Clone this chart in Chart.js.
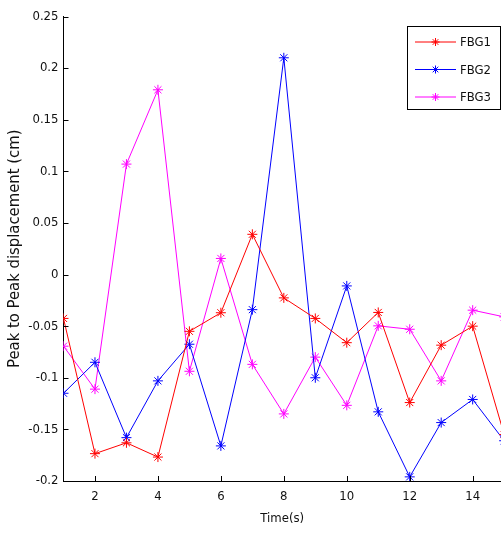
<!DOCTYPE html>
<html>
<head>
<meta charset="utf-8">
<script src="https://cdn.jsdelivr.net/npm/chart.js@4"></script>
<style>
  html, body { margin: 0; padding: 0; background: #fff; overflow: hidden; }
  #wrap { width: 501px; height: 533px; }
  canvas { display: block; }
</style>
</head>
<body>
<div id="wrap"><canvas id="grafico" width="501" height="533"></canvas></div>
<script>
// tiempos y desplazamientos pico a pico de cada sensor
const tiempos = [1, 2, 3, 4, 5, 6, 7, 8, 9, 10, 11, 12, 13, 14, 15];
const fbg1 = [-0.0425, -0.1735, -0.163, -0.1768, -0.055, -0.037, 0.039, -0.0226, -0.0425, -0.066, -0.0367, -0.124, -0.0684, -0.05, -0.155];
const fbg2 = [-0.115, -0.085, -0.158, -0.103, -0.0675, -0.166, -0.034, 0.21, -0.1, -0.011, -0.133, -0.196, -0.1434, -0.121, -0.161];
const fbg3 = [-0.0694, -0.111, 0.107, 0.179, -0.0937, 0.0156, -0.087, -0.135, -0.08, -0.1267, -0.0497, -0.053, -0.103, -0.0345, -0.041];

const ticksX = [2, 4, 6, 8, 10, 12, 14];
const ticksY = [-0.2, -0.15, -0.1, -0.05, 0, 0.05, 0.1, 0.15, 0.2, 0.25];

const fuente = '"Liberation Sans Narrow", "DejaVu Sans Condensed", "Liberation Sans", Arial, sans-serif';

function serie(nombre, valores, color) {
    return {
        label: nombre,
        data: tiempos.map((t, i) => ({ x: t, y: valores[i] })),
        borderColor: color,
        backgroundColor: color,
        borderWidth: 1,
        pointStyle: 'star',
        pointRadius: 5,
        pointBorderWidth: 1,
        tension: 0
    };
}

// marcas de escala hacia adentro y leyenda dentro del area, estilo matlab
const marcas = {
    id: 'marcas',
    afterDraw(chart) {
        const ctx = chart.ctx;
        const area = chart.chartArea;
        const sx = chart.scales.x;
        const sy = chart.scales.y;
        ctx.save();
        ctx.strokeStyle = '#000';
        ctx.lineWidth = 1;
        ctx.beginPath();
        ticksX.forEach(v => {
            const px = Math.round(sx.getPixelForValue(v)) + 0.5;
            ctx.moveTo(px, area.bottom);
            ctx.lineTo(px, area.bottom - 5);
        });
        ticksY.forEach(v => {
            const py = Math.round(sy.getPixelForValue(v)) + 0.5;
            ctx.moveTo(area.left, py);
            ctx.lineTo(area.left + 5, py);
        });
        ctx.stroke();

        // leyenda
        const x0 = 407, y0 = 26, w = 93, h = 83;
        ctx.fillStyle = '#fff';
        ctx.fillRect(x0, y0, w, h);
        ctx.strokeRect(x0 + 0.5, y0 + 0.5, w, h);
        ctx.font = '13px ' + fuente;
        ctx.textBaseline = 'middle';
        chart.data.datasets.forEach((ds, i) => {
            const yy = 42 + i * 27.5;
            ctx.strokeStyle = ds.borderColor;
            ctx.beginPath();
            ctx.moveTo(415, yy);
            ctx.lineTo(456, yy);
            ctx.stroke();
            const r = 4;
            ctx.beginPath();
            ctx.moveTo(435.5 - r, yy); ctx.lineTo(435.5 + r, yy);
            ctx.moveTo(435.5, yy - r); ctx.lineTo(435.5, yy + r);
            ctx.moveTo(435.5 - r * 0.7, yy - r * 0.7); ctx.lineTo(435.5 + r * 0.7, yy + r * 0.7);
            ctx.moveTo(435.5 - r * 0.7, yy + r * 0.7); ctx.lineTo(435.5 + r * 0.7, yy - r * 0.7);
            ctx.stroke();
            ctx.fillStyle = '#111';
            ctx.fillText(ds.label, 460, yy + 1);
        });
        ctx.restore();
    }
};

const ctx = document.getElementById('grafico').getContext('2d');
new Chart(ctx, {
    type: 'line',
    data: {
        datasets: [
            serie('FBG1', fbg1, '#ff0000'),
            serie('FBG2', fbg2, '#0000ff'),
            serie('FBG3', fbg3, '#ff00ff')
        ]
    },
    options: {
        responsive: false,
        animation: false,
        layout: { autoPadding: false, padding: { top: 16.5, right: 0, left: 0, bottom: 0 } },
        plugins: {
            legend: { display: false },
            tooltip: { enabled: false }
        },
        scales: {
            x: {
                type: 'linear',
                min: 1,
                max: 14.9,
                afterBuildTicks: s => { s.ticks = ticksX.map(v => ({ value: v })); },
                afterFit: s => { s.height = 52; s.paddingLeft = 0; s.paddingRight = 0; },
                grid: { display: false, drawTicks: false },
                border: { display: true, color: '#000', width: 1 },
                ticks: {
                    color: '#111',
                    padding: 8,
                    maxRotation: 0,
                    font: { family: fuente, size: 13 }
                },
                title: {
                    display: true,
                    text: 'Time(s)',
                    color: '#111',
                    padding: { top: 0, bottom: 7 },
                    font: { family: fuente, size: 13 }
                }
            },
            y: {
                min: -0.2,
                max: 0.25,
                afterBuildTicks: s => { s.ticks = ticksY.map(v => ({ value: v })); },
                afterFit: s => { s.width = 63.5; s.paddingTop = 0; s.paddingBottom = 0; },
                grid: { display: false, drawTicks: false },
                border: { display: true, color: '#000', width: 1 },
                ticks: {
                    color: '#111',
                    padding: 5,
                    font: { family: fuente, size: 13 },
                    callback: v => String(Math.round(v * 100) / 100)
                },
                title: {
                    display: true,
                    text: 'Peak to Peak displacement (cm)',
                    color: '#111',
                    padding: { top: 5, bottom: 0 },
                    font: { family: fuente, size: 16.5 }
                }
            }
        }
    },
    plugins: [marcas]
});
</script>
</body>
</html>
